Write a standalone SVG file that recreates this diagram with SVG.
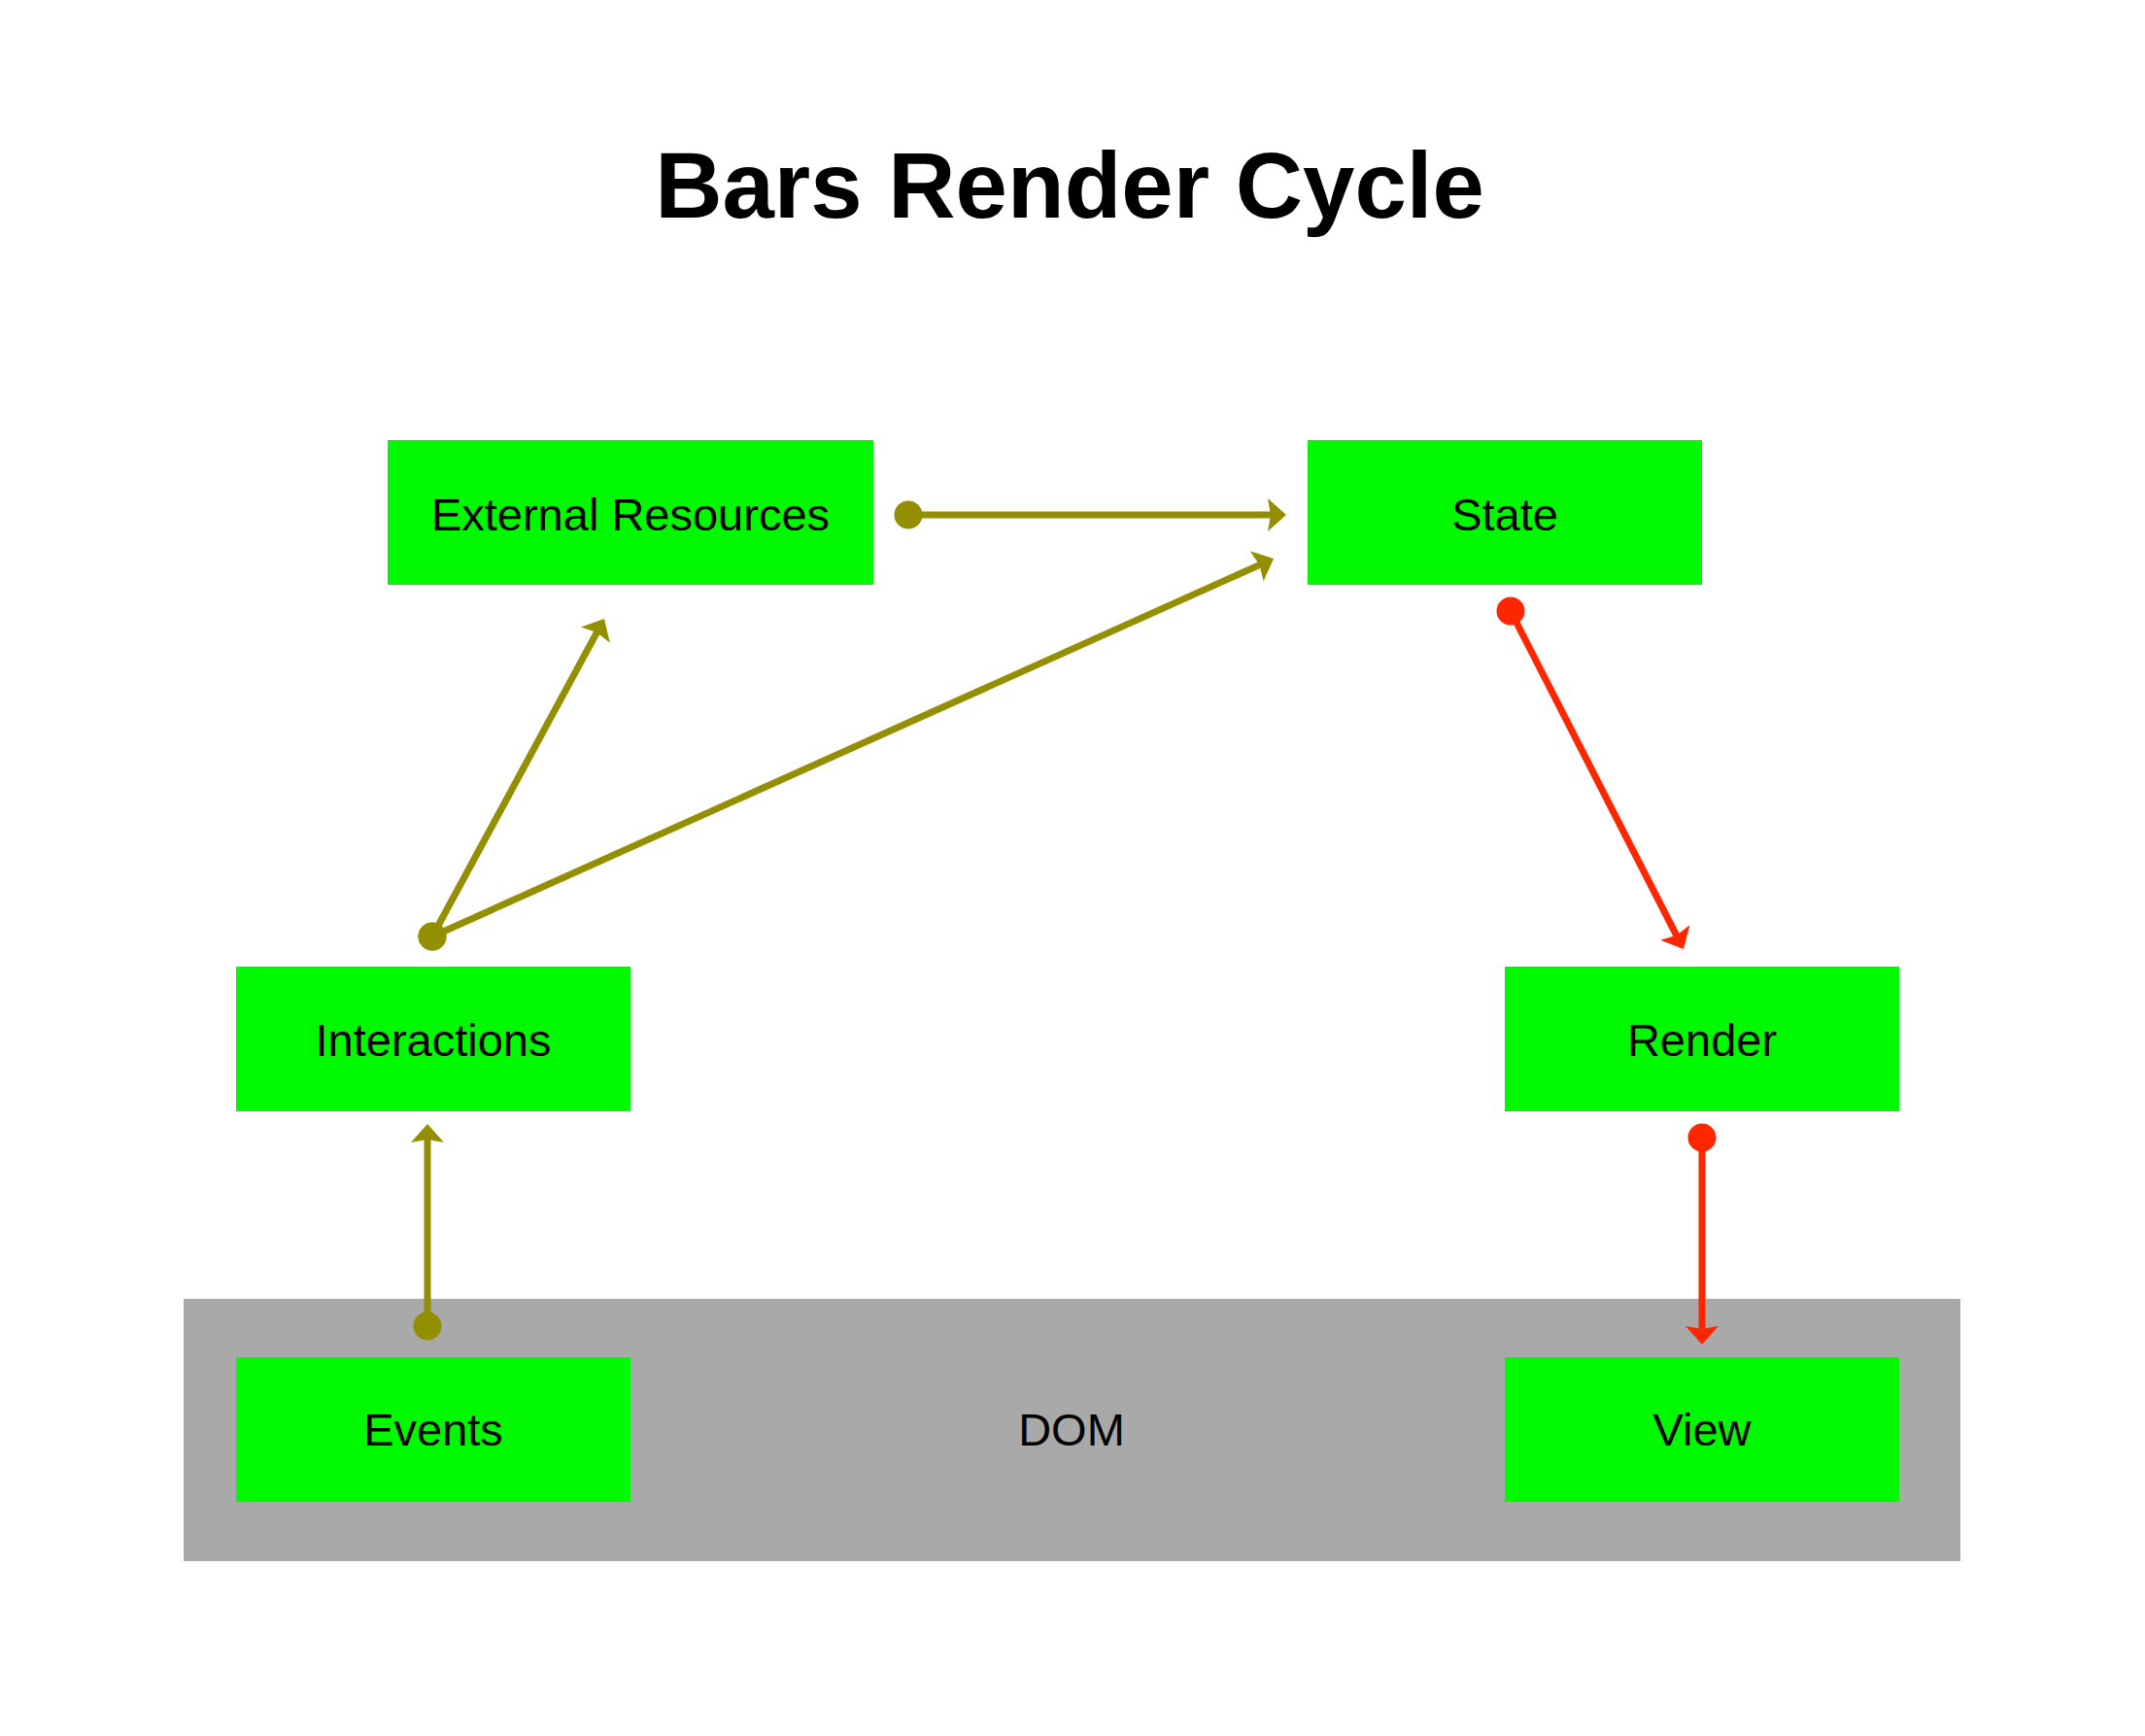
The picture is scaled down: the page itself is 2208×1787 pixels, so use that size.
<svg xmlns="http://www.w3.org/2000/svg" width="2208" height="1787" viewBox="0 0 2208 1787">
<style>
.node{fill:#00F900}
.lbl{font-family:"Liberation Sans",Arial,Helvetica,sans-serif;font-size:47px;fill:#000;text-anchor:middle}
.title{font-family:"Liberation Sans",Arial,Helvetica,sans-serif;font-size:96px;font-weight:bold;fill:#000;text-anchor:middle}
.olive{stroke:#948F00;stroke-width:7;fill:none}
.red{stroke:#FF2600;stroke-width:7;fill:none}
.olive-m{marker-start:url(#dotO);marker-end:url(#arrO)}
.red-m{marker-start:url(#dotR);marker-end:url(#arrR)}
</style>
<defs>
<marker id="arrO" markerUnits="userSpaceOnUse" viewBox="-10 -20 24 40" markerWidth="24" markerHeight="40" refX="0" refY="0" orient="auto" overflow="visible">
<path d="M10,0 L-9,-17 L-6,0 L-9,17 Z" fill="#948F00"/>
</marker>
<marker id="arrR" markerUnits="userSpaceOnUse" viewBox="-10 -20 24 40" markerWidth="24" markerHeight="40" refX="0" refY="0" orient="auto" overflow="visible">
<path d="M10,0 L-9,-17 L-6,0 L-9,17 Z" fill="#FF2600"/>
</marker>
<marker id="dotO" markerUnits="userSpaceOnUse" viewBox="-16 -16 32 32" markerWidth="32" markerHeight="32" refX="0" refY="0" overflow="visible">
<circle cx="0" cy="0" r="14.5" fill="#948F00"/>
</marker>
<marker id="dotR" markerUnits="userSpaceOnUse" viewBox="-16 -16 32 32" markerWidth="32" markerHeight="32" refX="0" refY="0" overflow="visible">
<circle cx="0" cy="0" r="14.5" fill="#FF2600"/>
</marker>
</defs>
<rect width="2208" height="1787" fill="#fff"/>
<text class="title" x="1101" y="224">Bars Render Cycle</text>

<g id="dom">
<rect x="189" y="1337" width="1829" height="270" fill="#A9A9A9"/>
<text class="lbl" x="1103" y="1488">DOM</text>
</g>

<g id="external-resources">
<rect class="node" x="399" y="453" width="500" height="149"/>
<text class="lbl" x="649" y="546">External Resources</text>
</g>
<g id="state">
<rect class="node" x="1346" y="453" width="406" height="149"/>
<text class="lbl" x="1549" y="546">State</text>
</g>
<g id="interactions">
<rect class="node" x="243" y="995" width="406" height="149"/>
<text class="lbl" x="446" y="1087">Interactions</text>
</g>
<g id="render">
<rect class="node" x="1549" y="995" width="406" height="149"/>
<text class="lbl" x="1752" y="1087">Render</text>
</g>
<g id="events">
<rect class="node" x="243" y="1397" width="406" height="149"/>
<text class="lbl" x="446" y="1488">Events</text>
</g>
<g id="view">
<rect class="node" x="1549" y="1397" width="406" height="149"/>
<text class="lbl" x="1752" y="1488">View</text>
</g>

<g id="connectors">
<path class="olive olive-m" d="M935,530 L1314,530"/>
<path class="olive olive-m" d="M445,964 L617.2,645.8"/>
<path class="olive olive-m" d="M445,964 L1301.9,579.1"/>
<path class="olive olive-m" d="M440,1365 L440,1167"/>
<path class="red red-m" d="M1555,629 L1728.4,968.1"/>
<path class="red red-m" d="M1752,1171 L1752,1374"/>
</g>
</svg>
